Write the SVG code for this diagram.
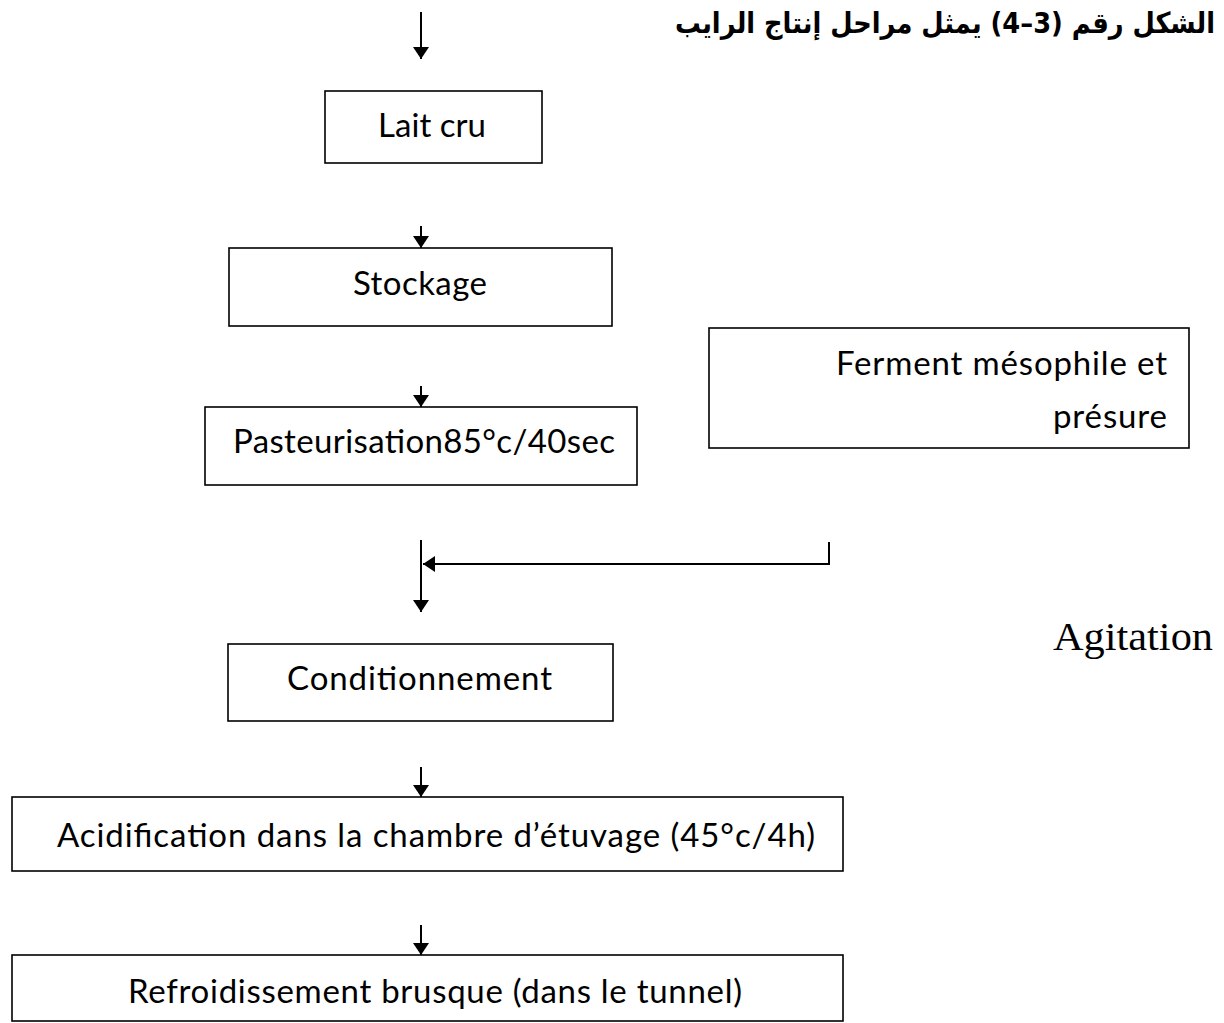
<svg xmlns="http://www.w3.org/2000/svg" width="1224" height="1023" viewBox="0 0 1224 1023">
  <style>
    .box { fill: #ffffff; stroke: #000000; stroke-width: 1.6; }
    .lbl { font-family: Lato, "Open Sans", sans-serif; font-size: 33px; fill: #000000; }
    .wire { fill: none; stroke: #000000; stroke-width: 2; }
    .title { font-family: "DejaVu Sans", "Noto Sans", sans-serif; font-weight: bold; font-size: 29px; fill: #000000; }
    .side { font-family: "Liberation Serif", "DejaVu Serif", serif; font-size: 40px; fill: #000000; }
  </style>
  <defs>
    <marker id="head" viewBox="0 0 12 16" refX="12" refY="8" markerWidth="12" markerHeight="16" markerUnits="userSpaceOnUse" orient="auto">
      <path d="M0,0 L12,8 L0,16 Z" fill="#000000"/>
    </marker>
  </defs>

  <rect width="1224" height="1023" fill="#ffffff"/>

  <!-- heading -->
  <text class="title" x="1215" y="33" text-anchor="end" textLength="540" lengthAdjust="spacingAndGlyphs">الشكل رقم (3–4) يمثل مراحل إنتاج الرايب</text>

  <!-- side note -->
  <text class="side" x="1053" y="650" textLength="160" lengthAdjust="spacingAndGlyphs">Agitation</text>

  <!-- connectors -->
  <g id="connectors">
    <line class="wire" x1="421" y1="12" x2="421" y2="59" marker-end="url(#head)"/>
    <line class="wire" x1="421" y1="226" x2="421" y2="248" marker-end="url(#head)"/>
    <line class="wire" x1="421" y1="386" x2="421" y2="407" marker-end="url(#head)"/>
    <line class="wire" x1="421" y1="540" x2="421" y2="612" marker-end="url(#head)"/>
    <polyline class="wire" points="829,542 829,564 423,564" marker-end="url(#head)"/>
    <line class="wire" x1="421" y1="767" x2="421" y2="797" marker-end="url(#head)"/>
    <line class="wire" x1="421" y1="925" x2="421" y2="955" marker-end="url(#head)"/>
  </g>

  <!-- process steps -->
  <g id="lait-cru">
    <rect class="box" x="325" y="91" width="217" height="72"/>
    <text class="lbl" x="378" y="137" textLength="108">Lait cru</text>
  </g>
  <g id="stockage">
    <rect class="box" x="229" y="248" width="383" height="78"/>
    <text class="lbl" x="353" y="295" textLength="134">Stockage</text>
  </g>
  <g id="pasteurisation">
    <rect class="box" x="205" y="407" width="432" height="78"/>
    <text class="lbl" x="233" y="453" textLength="382">Pasteurisation85°c/40sec</text>
  </g>
  <g id="ferment">
    <rect class="box" x="709" y="328" width="480" height="120"/>
    <text class="lbl" x="836" y="375" textLength="331">Ferment mésophile et</text>
    <text class="lbl" x="1053" y="428" textLength="114">présure</text>
  </g>
  <g id="conditionnement">
    <rect class="box" x="228" y="644" width="385" height="77"/>
    <text class="lbl" x="287" y="690" textLength="265">Conditionnement</text>
  </g>
  <g id="acidification">
    <rect class="box" x="12" y="797" width="831" height="74"/>
    <text class="lbl" x="57" y="847" textLength="758">Acidification dans la chambre d’étuvage (45°c/4h)</text>
  </g>
  <g id="refroidissement">
    <rect class="box" x="12" y="955" width="831" height="66"/>
    <text class="lbl" x="128" y="1003" textLength="614">Refroidissement brusque (dans le tunnel)</text>
  </g>
</svg>
